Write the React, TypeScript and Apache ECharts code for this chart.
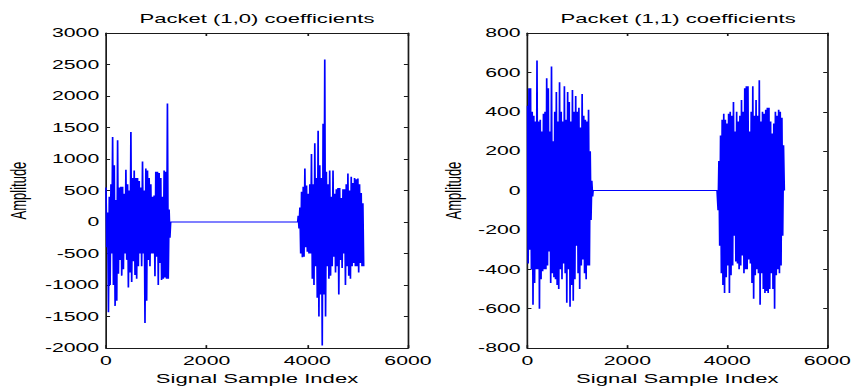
import React, { useEffect, useRef } from "react";
import * as echarts from "echarts";

// ---- data ----
const xTicks = { min: 0, max: 6000, interval: 2000 };
const p10Axis = { min: -2000, max: 3000, interval: 500 };
const p11Axis = { min: -800, max: 800, interval: 200 };

// Packet (1,0): two bursts, alternating positive / negative swings
const p10Burst1Span = [0, 1270];
const p10Burst1 = [
  550, -400, 150, -1430, 400, -1000, 600, -500, 1350, -1000, 900, -1330,
  350, -1250, 1300, -820, 550, -600, 560, -850, 560, -750, 450, -500,
  830, -600, 600, -1040, 500, -800, 1430, -950, 700, -620, 820, -840,
  700, -900, 700, -700, 650, -500, 550, -700, 960, -500, 500, -1600,
  850, -1250, 820, -600, 700, -700, 600, -500, 400, -500, 420, -860,
  800, -550, 800, -1000, 780, -650, 700, -920, 400, -900, 820, -880,
  800, -900, 1880, -900, 200, -250,
];
const p10QuietSpan = [1285, 3810];
const p10Burst2Span = [3820, 5120];
const p10Burst2 = [
  100, -100, 230, -500, 480, -560, 560, -550, 850, -400, 580, -470,
  450, -500, 600, -500, 1080, -900, 600, -1000, 1250, -700, 700, -1200,
  1450, -1500, 900, -1150, 700, -1960, 1560, -1150, 2580, -1500, 800, -700,
  600, -900, 820, -850, 400, -700, 820, -550, 450, -800, 520, -700,
  540, -1150, 540, -600, 380, -730, 520, -500, 520, -1000, 600, -700,
  770, -850, 500, -900, 720, -700, 620, -650, 700, -700, 680, -700,
  690, -800, 600, -650, 460, -700, 300, -700,
];

// Packet (1,1)
const p11Burst1Span = [0, 1305];
const p11Burst1 = [
  430, -370, 520, -300, 520, -400, 400, -580, 380, -470, 350, -400,
  660, -400, 350, -600, 360, -450, 300, -410, 390, -400, 400, -400,
  570, -380, 520, -310, 300, -470, 630, -420, 250, -440, 400, -450,
  500, -480, 350, -500, 550, -400, 400, -450, 350, -370, 530, -420,
  360, -570, 500, -400, 450, -590, 350, -480, 510, -560, 400, -450,
  480, -280, 400, -420, 420, -500, 320, -380, 490, -350, 380, -420,
  360, -450, 350, -380, 410, -380, 200, -150, 50, -30,
];
const p11QuietSpan = [1315, 3795];
const p11Burst2Span = [3800, 5140];
const p11Burst2 = [
  0, -100, 150, -280, 280, -420, 360, -480, 390, -520, 360, -440,
  340, -380, 390, -520, 400, -430, 380, -380, 450, -230, 300, -360,
  400, -370, 350, -400, 380, -380, 460, -330, 400, -420, 520, -400,
  530, -400, 530, -350, 300, -370, 400, -470, 530, -550, 380, -430,
  460, -400, 380, -420, 560, -580, 350, -420, 400, -500, 390, -520,
  410, -510, 420, -520, 420, -500, 350, -420, 290, -500, 340, -600,
  400, -430, 380, -400, 410, -420, 400, -380, 370, -230, 230, 0,
];

// ---- layout ----
const W = 504;
const H = 390;
const SX = 856 / W; // the reference image is stretched horizontally
const FONT = "'Liberation Sans', Arial, Helvetica, sans-serif";
const TXT = "#000000";
const AX = "#1a1a1a";
const WEIGHT = "normal";

function burst(values: number[], span: number[]): [number, number][] {
  const step = (span[1] - span[0]) / (values.length - 1);
  return values.map((v, i) => [Math.round(span[0] + i * step), v]);
}

function signal(b1: number[], s1: number[], quiet: number[], b2: number[], s2: number[]) {
  return [...burst(b1, s1), [quiet[0], 0], [quiet[1], 0], ...burst(b2, s2)];
}

const lineStyle = { color: AX, width: 1 };
const plain = (v: number) => String(v);

function xAxes(gridIndex: number) {
  const base = {
    type: "value" as const,
    gridIndex,
    min: xTicks.min,
    max: xTicks.max,
    interval: xTicks.interval,
    splitLine: { show: false },
    axisLine: { show: true, onZero: false, lineStyle },
    axisTick: { show: true, inside: true, length: 3, lineStyle },
  };
  return [
    {
      ...base,
      position: "bottom",
      name: "Signal Sample Index",
      nameLocation: "middle",
      nameGap: 19,
      nameTextStyle: { color: TXT, fontSize: 13, fontWeight: WEIGHT, fontFamily: FONT },
      axisLabel: {
        show: true,
        margin: 6,
        color: TXT,
        fontSize: 12.5,
        fontWeight: WEIGHT,
        fontFamily: FONT,
        formatter: plain,
      },
    },
    { ...base, position: "top", axisLabel: { show: false } },
  ];
}

function yAxes(gridIndex: number, ax: { min: number; max: number; interval: number }, gap: number) {
  const base = {
    type: "value" as const,
    gridIndex,
    min: ax.min,
    max: ax.max,
    interval: ax.interval,
    splitLine: { show: false },
    axisLine: { show: true, onZero: false, lineStyle },
    axisTick: { show: true, inside: true, length: 2.4, lineStyle },
  };
  return [
    {
      ...base,
      position: "left",
      name: "Amplitude",
      nameLocation: "middle",
      nameGap: gap,
      nameTextStyle: { color: TXT, fontSize: 13, fontFamily: FONT },
      axisLabel: {
        show: true,
        margin: 4,
        color: TXT,
        fontSize: 12.5,
        fontWeight: WEIGHT,
        fontFamily: FONT,
        formatter: plain,
      },
    },
    { ...base, position: "right", axisLabel: { show: false } },
  ];
}

const grids = [
  { left: 62.4, top: 33, width: 177.8, height: 318 },
  { left: 310.5, top: 33, width: 177.6, height: 318 },
];

const titleStyle = { color: TXT, fontSize: 13, fontWeight: WEIGHT, fontFamily: FONT };

export default function App() {
  const ref = useRef<HTMLDivElement>(null);
  useEffect(() => {
    if (!ref.current) return;
    const chart = echarts.init(ref.current, null, { renderer: "svg", width: W, height: H });
    chart.setOption({
      animation: false,
      backgroundColor: "#ffffff",
      title: [
        {
          text: "Packet (1,0) coefficients",
          left: grids[0].left + grids[0].width / 2,
          top: 12,
          textAlign: "center",
          padding: 0,
          textStyle: titleStyle,
        },
        {
          text: "Packet (1,1) coefficients",
          left: grids[1].left + grids[1].width / 2,
          top: 12,
          textAlign: "center",
          padding: 0,
          textStyle: titleStyle,
        },
      ],
      grid: grids,
      xAxis: [...xAxes(0), ...xAxes(1)],
      yAxis: [...yAxes(0, p10Axis, 45), ...yAxes(1, p11Axis, 37)],
      series: [
        {
          type: "line",
          xAxisIndex: 0,
          yAxisIndex: 0,
          silent: true,
          symbol: "none",
          showSymbol: false,
          lineStyle: { color: "#0000ff", width: 1 },
          data: signal(p10Burst1, p10Burst1Span, p10QuietSpan, p10Burst2, p10Burst2Span),
        },
        {
          type: "line",
          xAxisIndex: 2,
          yAxisIndex: 2,
          silent: true,
          symbol: "none",
          showSymbol: false,
          lineStyle: { color: "#0000ff", width: 1 },
          data: signal(p11Burst1, p11Burst1Span, p11QuietSpan, p11Burst2, p11Burst2Span),
        },
      ],
    });
    return () => chart.dispose();
  }, []);
  return (
    <div
      ref={ref}
      style={{
        position: "absolute",
        left: 0,
        top: 0,
        width: W,
        height: H,
        transform: `scaleX(${SX})`,
        transformOrigin: "0 0",
      }}
    />
  );
}
